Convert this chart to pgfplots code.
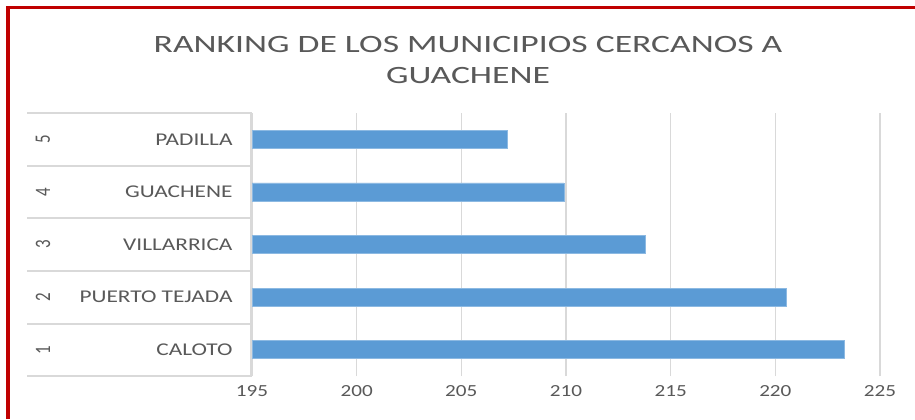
\documentclass[border=0pt]{standalone}
\usepackage{fontspec}
\setmainfont{Carlito}
\usepackage{pgfplots}
\pgfplotsset{compat=1.18}
\definecolor{barblue}{HTML}{5B9BD5}
\definecolor{txt}{HTML}{595959}
\definecolor{gridc}{HTML}{D9D9D9}
\definecolor{framec}{HTML}{C00000}
\newcommand{\sx}[1]{\scalebox{1.3}[1]{#1}}
\begin{document}
\begin{tikzpicture}
\begin{scope}[x=1bp,y=1bp]
\useasboundingbox (0,0) rectangle (915,419);
\fill[white] (0,0) rectangle (915,419);
\draw[framec, line width=3.5bp] (8,0) -- (8,411.5) -- (915,411.5);
\node[txt, font=\fontsize{25}{31}\selectfont, align=center] at (468,359) {\scalebox{1.43}[1]{RANKING DE LOS MUNICIPIOS CERCANOS A}\\\scalebox{1.43}[1]{GUACHENE}};
\end{scope}
\begin{axis}[at={(252bp,43bp)}, anchor=south west, scale only axis,
  width=628bp, height=263bp,
  xmin=195, xmax=225, ymin=0.5, ymax=5.5,
  xbar, bar width=18bp, bar shift=0pt,
  axis line style={draw=none},
  xtick={195,200,...,225},
  xmajorgrids, grid style={gridc, line width=1.5bp},
  ytick={1,2,3,4,5},
  yticklabels={\sx{CALOTO},\sx{PUERTO TEJADA},\sx{VILLARRICA},\sx{GUACHENE},\sx{PADILLA}},
  xticklabel={\scalebox{1.25}[1]{\pgfmathprintnumber{\tick}}},
  major tick length=0pt,
  yticklabel style={txt, font=\fontsize{18}{20}\selectfont, xshift=-16bp},
  xticklabel style={txt, font=\fontsize{17}{19}\selectfont, yshift=-6bp},
  /pgf/number format/assume math mode=true,
]
\addplot[fill=barblue, draw=barblue!70!white, line width=0.6bp] coordinates {(223.3,1) (220.5,2) (213.8,3) (209.9,4) (207.2,5)};
\end{axis}
\begin{scope}[x=1bp,y=1bp]
\foreach \yy in {306,253,201,148,95,43} {\draw[gridc, line width=1.5bp] (27,\yy) -- (252,\yy);}
\draw[gridc, line width=1.5bp] (251,43) -- (251,306);
\foreach \r/\yy in {5/279.5,4/227,3/174.5,2/122,1/69} {\node[txt, rotate=90, font=\fontsize{17}{19}\selectfont] at (43,\yy) {\scalebox{1}[1.3]{\r}};}
\end{scope}
\end{tikzpicture}
\end{document}
